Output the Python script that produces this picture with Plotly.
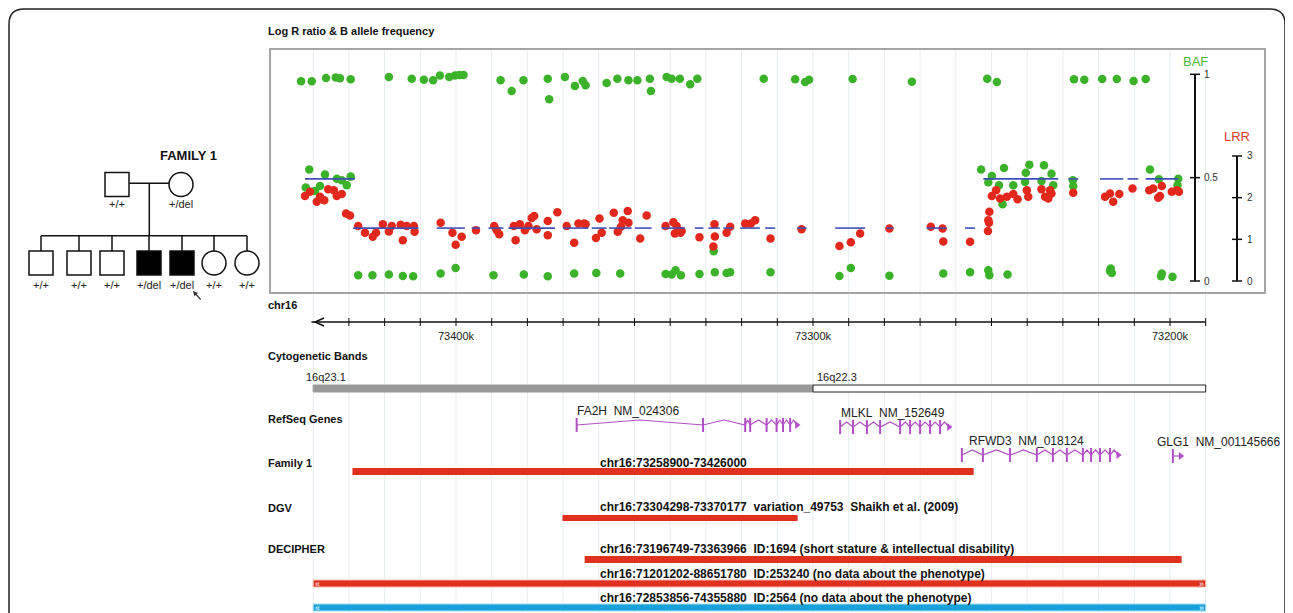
import plotly.graph_objects as go

# page body has an 8px margin: figure drawn at (8,8)
OFF = 8
W, H = 1293 - OFF, 613 - OFF
def PX(x): return (x - OFF) / W
def PY(y): return 1 - (y - OFF) / H

# ---------------- data (positions in kb on chr16) ----------------
baf_pos = [73443.4, 73440.4, 73436.4, 73433.7, 73432.5, 73429.5, 73418.8, 73412.4, 73409.0, 73406.4,
           73404.5, 73401.9, 73400.3, 73399.1, 73397.9, 73387.5, 73384.4, 73381.1,
           73441.1, 73442.1, 73439.5, 73438.1, 73436.7, 73433.4, 73432.0, 73430.6, 73429.5,
           73427.4, 73423.4, 73418.8, 73414.9, 73412.0, 73404.3, 73400.1, 73389.5, 73381.0,
           73374.3, 73373.9, 73369.5, 73366.7, 73364.5, 73363.7, 73357.8, 73354.8, 73351.7, 73349.2,
           73345.7, 73345.4, 73341.0, 73339.6, 73337.3, 73334.4, 73332.4, 73313.8,
           73374.3, 73366.9, 73360.7, 73354.0, 73341.3, 73339.6, 73338.5, 73337.0, 73331.8, 73327.5,
           73327.8, 73324.2, 73323.2, 73311.9,
           73305.0, 73302.2, 73301.1, 73288.9, 73272.3, 73251.2, 73248.5,
           73292.6, 73289.4, 73278.6, 73263.5, 73256.0, 73250.9, 73250.6, 73245.5,
           73252.9, 73249.9, 73250.9, 73246.5, 73247.9, 73243.9, 73246.9, 73240.4, 73239.4, 73240.6,
           73235.3, 73233.2, 73236.0, 73232.7, 73227.2, 73227.1, 73205.6, 73203.1, 73197.7, 73197.9,
           73226.9, 73224.0, 73219.0, 73214.9, 73210.2, 73206.8,
           73216.8, 73216.3, 73216.6, 73202.3, 73202.5, 73199.3]
baf_val = [0.966, 0.966, 0.982, 0.984, 0.981, 0.976, 0.987, 0.979, 0.974, 0.971,
           0.994, 0.987, 0.994, 0.997, 0.997, 0.971, 0.919, 0.971,
           0.539, 0.452, 0.436, 0.460, 0.515, 0.495, 0.487, 0.463, 0.505,
           0.028, 0.028, 0.031, 0.024, 0.023, 0.036, 0.063, 0.028, 0.032,
           0.979, 0.879, 0.987, 0.944, 0.968, 0.947, 0.958, 0.979, 0.971, 0.971,
           0.979, 0.919, 0.987, 0.979, 0.979, 0.952, 0.979, 0.979,
           0.023, 0.036, 0.039, 0.036, 0.034, 0.031, 0.052, 0.028, 0.034, 0.042,
           0.144, 0.039, 0.042, 0.042,
           0.976, 0.963, 0.974, 0.977, 0.964, 0.979, 0.963,
           0.024, 0.063, 0.026, 0.036, 0.042, 0.052, 0.028, 0.032,
           0.539, 0.508, 0.478, 0.547, 0.463, 0.463, 0.371, 0.524, 0.563, 0.479,
           0.560, 0.519, 0.484, 0.463, 0.487, 0.458, 0.539, 0.492, 0.495, 0.463,
           0.976, 0.974, 0.977, 0.977, 0.968, 0.977,
           0.048, 0.039, 0.060, 0.036, 0.023, 0.020]

lrr_pos = [73442.3, 73440.9, 73439.0, 73438.1, 73436.9, 73435.8, 73434.2, 73433.4, 73432.0,
           73430.8, 73429.7,
           73427.4, 73425.5, 73423.3, 73422.4, 73420.5, 73418.8, 73418.0, 73415.5, 73414.9, 73413.8,
           73411.8, 73411.6, 73404.3, 73401.0, 73400.1, 73398.4, 73394.4, 73389.3, 73388.6, 73387.9,
           73383.3, 73383.8, 73382.1, 73380.7, 73379.7, 73378.8, 73378.1, 73377.4,
           73374.3, 73374.3, 73371.6, 73369.0, 73366.9, 73365.7, 73364.1, 73363.7, 73360.8, 73359.8,
           73359.2, 73355.8, 73354.7, 73353.8, 73353.3, 73351.9, 73351.7, 73348.4, 73346.6, 73341.3,
           73339.1, 73338.7, 73338.2, 73337.1, 73336.8, 73331.8, 73327.6, 73327.5, 73327.9, 73324.2,
           73323.2, 73319.0, 73317.4, 73316.2, 73311.9,
           73303.2, 73292.6, 73289.4, 73286.8, 73278.6, 73267.0, 73263.7, 73263.5, 73256.0,
           73251.0, 73250.7, 73250.9, 73250.6,
           73248.7, 73249.9, 73247.6, 73245.7, 73243.9, 73242.7, 73240.1, 73239.7,
           73236.0, 73235.0, 73234.1, 73233.2, 73233.6, 73227.1, 73218.2, 73216.8, 73215.9, 73214.2,
           73210.5, 73205.8, 73204.7, 73202.8, 73202.3, 73203.3, 73199.5, 73198.1, 73197.5]
lrr_val = [2.04, 2.14, 1.90, 2.02, 1.94, 2.20, 2.18, 2.04, 2.09,
           1.62, 1.57,
           1.32, 1.16, 1.06, 1.16, 1.36, 1.19, 1.32, 1.35, 0.98, 1.32,
           1.32, 1.18, 1.40, 1.16, 0.87, 1.06, 1.22, 1.32, 1.22, 1.12,
           0.98, 1.32, 1.36, 1.22, 1.32, 1.51, 1.56, 1.24,
           1.44, 1.10, 1.65, 1.32, 0.92, 1.38, 1.38, 1.36, 1.03, 1.50,
           1.16, 1.64, 1.18, 1.30, 1.46, 1.68, 1.40, 1.02, 1.57, 1.32,
           1.41, 1.14, 1.32, 1.16, 1.20, 1.05, 1.36, 1.07, 0.83, 1.16,
           1.30, 1.38, 1.38, 1.46, 1.02,
           1.24, 0.84, 0.93, 1.14, 1.26, 1.30, 1.26, 0.95, 0.94,
           1.20, 1.40, 1.46, 1.66,
           2.18, 2.04, 1.98, 2.02, 2.09, 1.96, 2.18, 2.02,
           2.20, 2.02, 1.98, 2.10, 2.18, 2.12, 2.02, 2.10, 1.90, 2.09,
           2.22, 2.18, 2.22, 2.04, 2.28, 2.00, 2.14, 2.18, 2.14]

seg_normal_level = 2.45
seg_normal = [(73442.3, 73428.3), (73252.3, 73231.3), (73228.5, 73225.7), (73219.6, 73213.1),
              (73211.9, 73208.9), (73206.8, 73197.7)]
seg_del_level = 1.27
seg_del = [(73428.8, 73410.5), (73405.4, 73397.5), (73395.6, 73393.3), (73390.9, 73386.7),
           (73385.3, 73372.3), (73370.0, 73362.9), (73362.0, 73357.8), (73357.1, 73350.8),
           (73349.9, 73345.2), (73342.4, 73335.9), (73333.1, 73330.7), (73329.3, 73326.1),
           (73325.1, 73322.3), (73320.4, 73314.9), (73313.4, 73310.6), (73304.4, 73301.8),
           (73293.8, 73285.4), (73279.4, 73277.5), (73268.2, 73262.6), (73257.4, 73254.6)]

axis_ticks_kb = list(range(73440, 73185, -10))
axis_labels = {73400: "73400k", 73300: "73300k", 73200: "73200k"}
view_start, view_end = 73440.0, 73190.0

bands = [("16q23.1", 73442.5, 73440.0, 73300.0, "#9a9a9a"), ("16q22.3", 73299.5, 73300.0, 73190.0, "white")]

# (label, label start kb, exon positions kb, track y px)
genes = [
    ("FA2H\u00a0\u00a0NM_024306", 73366.8, [73366.2, 73330.8, 73319.0, 73317.6, 73313.0, 73310.2, 73308.4, 73306.4, 73304.5], 425),
    ("MLKL\u00a0\u00a0NM_152649", 73292.6, [73292.4, 73288.8, 73284.9, 73281.2, 73275.6, 73272.8, 73270.0, 73267.2, 73264.4, 73261.9], 427),
    ("RFWD3\u00a0\u00a0NM_018124", 73257.0, [73258.3, 73252.4, 73244.8, 73237.3, 73232.8, 73228.9, 73224.4, 73222.1, 73219.6, 73216.8, 73214.5], 455),
    ("GLG1\u00a0\u00a0NM_001145666", 73204.2, [73199.2, 73197.0], 456),
]

family_cnv = (73429.0, 73255.0)
dgv_cnv = (73370.177, 73304.298)
decipher_cnvs = [(73363.966, 73196.749, "#e0311f", False), (73440.0, 73190.0, "#e0311f", True),
                 (73440.0, 73190.0, "#17a2dc", True)]

ped_parents = [("M", False, "+/+", 117), ("F", False, "+/del", 181)]
ped_children = [("M", False, "+/+", 41), ("M", False, "+/+", 79), ("M", False, "+/+", 112),
                ("M", True, "+/del", 149), ("M", True, "+/del", 182), ("F", False, "+/+", 214),
                ("F", False, "+/+", 247)]

# ---------------- figure ----------------
def kb_at(px):
    return 73400 - (px - 456) / 3.57

GREEN = "#3cb22a"
RED = "#e2281c"
BLUE = "#3f4fb8"
PURPLE = "#b24fc6"
FONT = "Liberation Sans, Arial, sans-serif"

fig = go.Figure()

fig.add_trace(go.Scatter(x=baf_pos, y=baf_val, mode="markers", yaxis="y",
                         marker=dict(color=GREEN, size=8.5, line=dict(width=0)), showlegend=False, hoverinfo="skip"))
fig.add_trace(go.Scatter(x=lrr_pos, y=lrr_val, mode="markers", yaxis="y2",
                         marker=dict(color=RED, size=8.5, line=dict(width=0)), showlegend=False, hoverinfo="skip"))

for segs, lvl in ((seg_normal, seg_normal_level), (seg_del, seg_del_level)):
    xs, ys = [], []
    for a, b in segs:
        xs += [a, b, None]
        ys += [lvl, lvl, None]
    fig.add_trace(go.Scatter(x=xs, y=ys, mode="lines", yaxis="y2", line=dict(color=BLUE, width=1.6),
                             showlegend=False, hoverinfo="skip"))

# genes on pixel-y axis (y3)
for label, lab_x, ex, gy in genes:
    xs, ys = [], []
    for i in range(len(ex) - 1):
        a, b = ex[i], ex[i + 1]
        xs += [a, (a + b) / 2, b]
        ys += [gy, gy - 5, gy]
    if len(ex) == 2:
        xs, ys = [ex[0], ex[1]], [gy, gy]
    fig.add_trace(go.Scatter(x=xs, y=ys, mode="lines", yaxis="y3", line=dict(color=PURPLE, width=1.2),
                             showlegend=False, hoverinfo="skip"))
    ex_marks = ex[:-1] if len(ex) > 2 else ex[:1]
    fig.add_trace(go.Scatter(x=ex_marks, y=[gy] * len(ex_marks), mode="markers", yaxis="y3",
                             marker=dict(symbol="line-ns", size=10, line=dict(color=PURPLE, width=2)),
                             showlegend=False, hoverinfo="skip"))
    fig.add_trace(go.Scatter(x=[ex[-1]], y=[gy], mode="markers", yaxis="y3",
                             marker=dict(symbol="triangle-right", size=7, color=PURPLE),
                             showlegend=False, hoverinfo="skip"))
    fig.add_annotation(x=lab_x, y=gy - 14, xref="x", yref="y3", text=label, showarrow=False,
                       xanchor="left", yanchor="middle", font=dict(family=FONT, size=12, color="#222"))

shapes = []
# outer rounded border
r = 15
shapes.append(dict(type="path", xref="paper", yref="paper",
                   path=f"M {PX(9)},{PY(640)} L {PX(9)},{PY(9 + r)} Q {PX(9)},{PY(9)} {PX(9 + r)},{PY(9)} "
                        f"L {PX(1285 - r)},{PY(9)} Q {PX(1285)},{PY(9)} {PX(1285)},{PY(9 + r)} L {PX(1285)},{PY(640)}",
                   line=dict(color="#222", width=1.5)))
# gridlines
for t in axis_ticks_kb:
    shapes.append(dict(type="line", xref="x", yref="paper", x0=t, x1=t, y0=0, y1=PY(49),
                       line=dict(color="#e7edf3", width=1), layer="below"))
# panel border
shapes.append(dict(type="rect", xref="paper", yref="paper", x0=PX(270), x1=PX(1265), y0=PY(293), y1=PY(49),
                   line=dict(color="#a5a5a5", width=2)))
# BAF scale
bx = 1195
shapes.append(dict(type="line", xref="paper", yref="y", x0=PX(bx), x1=PX(bx), y0=0, y1=1,
                   line=dict(color="#111", width=2)))
for v in (0, 0.5, 1):
    shapes.append(dict(type="line", xref="paper", yref="y", x0=PX(bx - 5), x1=PX(bx + 5), y0=v, y1=v,
                       line=dict(color="#111", width=1.5)))
lx = 1237
shapes.append(dict(type="line", xref="paper", yref="y2", x0=PX(lx), x1=PX(lx), y0=0, y1=3,
                   line=dict(color="#111", width=2)))
for v in (0, 1, 2, 3):
    shapes.append(dict(type="line", xref="paper", yref="y2", x0=PX(lx - 5), x1=PX(lx + 5), y0=v, y1=v,
                       line=dict(color="#111", width=1.5)))

# chromosome axis
ay = 322
shapes.append(dict(type="line", xref="x", yref="y3", x0=view_start + 0.5, x1=view_end, y0=ay, y1=ay,
                   line=dict(color="#111", width=1.5)))
for t in axis_ticks_kb:
    if t == 73440:
        continue
    shapes.append(dict(type="line", xref="x", yref="y3", x0=t, x1=t, y0=ay - 4, y1=ay + 4,
                       line=dict(color="#111", width=1)))
shapes.append(dict(type="path", xref="paper", yref="paper",
                   path=f"M {PX(324)},{PY(318)} L {PX(315)},{PY(322)} L {PX(324)},{PY(326)}",
                   line=dict(color="#111", width=1.5)))
for t, lab in axis_labels.items():
    fig.add_annotation(x=t, y=336, xref="x", yref="y3", text=lab, showarrow=False, xanchor="center",
                       yanchor="middle", font=dict(family=FONT, size=11, color="#222"))

# cytogenetic bands
for name, lab_x, a, b, col in bands:
    shapes.append(dict(type="rect", xref="x", yref="y3", x0=a, x1=b, y0=385, y1=392,
                       fillcolor=col, line=dict(color="#222" if col == "white" else col, width=1)))
    fig.add_annotation(x=lab_x, y=377, xref="x", yref="y3", text=name, showarrow=False, xanchor="left",
                       yanchor="middle", font=dict(family=FONT, size=11, color="#222"))

# CNV bars
shapes.append(dict(type="rect", xref="x", yref="y3", x0=family_cnv[0], x1=family_cnv[1], y0=468, y1=475,
                   fillcolor="#e0311f", line=dict(width=0)))
shapes.append(dict(type="rect", xref="x", yref="y3", x0=dgv_cnv[0], x1=dgv_cnv[1], y0=515, y1=521,
                   fillcolor="#e0311f", line=dict(width=0)))
for (a, b, col, clipped), y0 in zip(decipher_cnvs, (556, 580, 604)):
    shapes.append(dict(type="rect", xref="x", yref="y3", x0=a, x1=b, y0=y0, y1=y0 + 7,
                       fillcolor=col, line=dict(color="#f4b8b0" if col != "#17a2dc" else "#a8dcf2", width=1)
                       if clipped else dict(width=0)))
    if clipped:
        fig.add_annotation(x=a, y=y0 + 3.5, xref="x", yref="y3", text="«", showarrow=False, xanchor="left",
                           yanchor="middle", font=dict(family=FONT, size=9, color="white"))
        fig.add_annotation(x=b, y=y0 + 3.5, xref="x", yref="y3", text="»", showarrow=False, xanchor="right",
                           yanchor="middle", font=dict(family=FONT, size=9, color="white"))

# pedigree
def symbol(sex, aff, cx, cy, s=24):
    fill = "black" if aff else "white"
    return dict(type="rect" if sex == "M" else "circle", xref="paper", yref="paper",
                x0=PX(cx - s / 2), x1=PX(cx + s / 2), y0=PY(cy + s / 2), y1=PY(cy - s / 2),
                fillcolor=fill, line=dict(color="#111", width=1.5))

def ln(x0, y0, x1, y1, w=1.5):
    return dict(type="line", xref="paper", yref="paper", x0=PX(x0), y0=PY(y0), x1=PX(x1), y1=PY(y1),
                line=dict(color="#111", width=w))

pcy = 184.5
shapes.append(ln(ped_parents[0][3] + 12, 183.3, ped_parents[1][3] - 12, 183.3))
shapes.append(ln(149.3, 183.3, 149.3, 235.7))
shapes.append(ln(ped_children[0][3], 235.7, ped_children[-1][3], 235.7))
for sex, aff, g, cx in ped_parents:
    shapes.append(symbol(sex, aff, cx, pcy))
    fig.add_annotation(x=PX(cx), y=PY(204), xref="paper", yref="paper", text=g, showarrow=False,
                       xanchor="center", yanchor="middle", font=dict(family=FONT, size=11, color="#222"))
for sex, aff, g, cx in ped_children:
    shapes.append(ln(cx, 235.7, cx, 251))
    shapes.append(symbol(sex, aff, cx, 263))
    fig.add_annotation(x=PX(cx), y=PY(284.5), xref="paper", yref="paper", text=g, showarrow=False,
                       xanchor="center", yanchor="middle", font=dict(family=FONT, size=11, color="#222"))
fig.add_annotation(x=PX(188), y=PY(155), xref="paper", yref="paper", text="<b>FAMILY 1</b>", showarrow=False,
                   xanchor="center", yanchor="middle", font=dict(family=FONT, size=13, color="#111"))
fig.add_annotation(x=PX(193), y=PY(291), ax=9, ay=10, xref="paper", yref="paper", text="", showarrow=True,
                   arrowhead=2, arrowsize=0.8, arrowwidth=1.2, arrowcolor="#333")

# labels
def lbl(text, x, y, size=11, bold=True, color="#111", anchor="left"):
    fig.add_annotation(x=PX(x), y=PY(y), xref="paper", yref="paper",
                       text=f"<b>{text}</b>" if bold else text, showarrow=False, xanchor=anchor,
                       yanchor="middle", font=dict(family=FONT, size=size, color=color))

lbl("Log R ratio &amp; B allele frequency", 266, 31)
lbl("chr16", 266, 305)
lbl("Cytogenetic Bands", 266, 356)
lbl("RefSeq Genes", 266, 419)
lbl("Family 1", 266, 463)
lbl("DGV", 266, 508)
lbl("DECIPHER", 266, 549)
lbl("chr16:73258900-73426000", 598, 463, size=12)
lbl("chr16:73304298-73370177\u00a0\u00a0variation_49753\u00a0\u00a0Shaikh et al. (2009)", 598, 507, size=12)
lbl("chr16:73196749-73363966\u00a0\u00a0ID:1694 (short stature &amp; intellectual disability)", 598, 549, size=12)
lbl("chr16:71201202-88651780\u00a0\u00a0ID:253240 (no data about the phenotype)", 598, 574, size=12)
lbl("chr16:72853856-74355880\u00a0\u00a0ID:2564 (no data about the phenotype)", 598, 598, size=12)
lbl("BAF", 1195, 62, size=13, bold=False, color="#4cb53a", anchor="center")
lbl("LRR", 1237, 136, size=13, bold=False, color="#e03a2a", anchor="center")
for v, t in ((1, "1"), (0.5, "0.5"), (0, "0")):
    fig.add_annotation(x=PX(1202), y=v, xref="paper", yref="y", text=t, showarrow=False, xanchor="left",
                       font=dict(family=FONT, size=10, color="#333"))
for v in (0, 1, 2, 3):
    fig.add_annotation(x=PX(1245), y=v, xref="paper", yref="y2", text=str(v), showarrow=False, xanchor="left",
                       font=dict(family=FONT, size=10, color="#333"))

fig.update_layout(
    width=W, height=H, margin=dict(l=0, r=0, t=0, b=0),
    paper_bgcolor="white", plot_bgcolor="rgba(0,0,0,0)",
    shapes=shapes, showlegend=False,
    xaxis=dict(domain=[0, 1], range=[kb_at(OFF), kb_at(1293)], visible=False, fixedrange=True),
    yaxis=dict(domain=[PY(293), PY(49)], range=[-12 / 206.7, 1 + 25.3 / 206.7], visible=False),
    yaxis2=dict(overlaying="y", range=[-12 / 41.67, 3 + 107 / 41.67], visible=False),
    yaxis3=dict(domain=[0, 1], range=[613, OFF], visible=False, anchor="x"),
)

fig.write_html("out.html")
